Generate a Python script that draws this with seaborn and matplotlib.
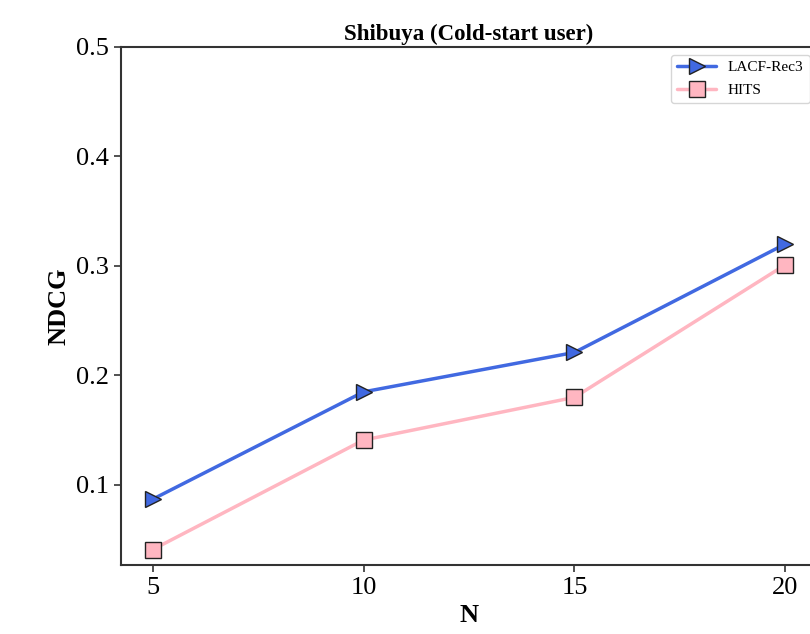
import pandas as pd
import numpy as np
import matplotlib.pyplot as plt
import seaborn as sns

# values
n_values = [5, 10, 15, 20]
lacf_rec3 = [0.087, 0.185, 0.221, 0.320]
hits = [0.041, 0.141, 0.180, 0.301]

df = pd.DataFrame({
    'N': n_values * 2,
    'NDCG': lacf_rec3 + hits,
    'model': ['LACF-Rec3'] * 4 + ['HITS'] * 4,
})

sns.set_style('ticks')
plt.rcParams['font.family'] = ['Liberation Serif', 'DejaVu Serif']
plt.rcParams['text.color'] = 'black'
plt.rcParams['axes.labelcolor'] = 'black'

fig = plt.figure(figsize=(8.1, 6.34), dpi=100)
ax = fig.add_axes([0.149, 0.109, 0.86, 0.817])

sns.lineplot(data=df, x='N', y='NDCG', hue='model', style='model',
             palette={'LACF-Rec3': '#4169E1', 'HITS': '#FFB6C1'},
             markers={'LACF-Rec3': '>', 'HITS': 's'}, dashes=False,
             linewidth=2.5, markersize=12, markeredgecolor='#222222',
             markeredgewidth=1.0, ax=ax)

ax.set_xticks(n_values)
ax.set_xlim(4.24, 20.76)
ax.set_ylim(0.027, 0.5)
ax.set_yticks([0.1, 0.2, 0.3, 0.4, 0.5])
ax.tick_params(labelsize=19, length=5, width=1.2, colors='#333333', labelcolor='black')
for s in ax.spines.values():
    s.set_linewidth(1.5)
    s.set_color('#333333')

ax.set_title('Shibuya (Cold-start user)', fontsize=16.5, fontweight='bold', pad=5, color='black')
ax.set_xlabel('N', fontsize=19, fontweight='bold')
ax.set_ylabel('NDCG', fontsize=19, fontweight='bold')

ax.legend(loc='upper right', fontsize=11, title=None, frameon=True,
          markerscale=1.0, handlelength=2.5, borderaxespad=0.5, labelspacing=0.6)

fig.savefig('out.png', dpi=100)
